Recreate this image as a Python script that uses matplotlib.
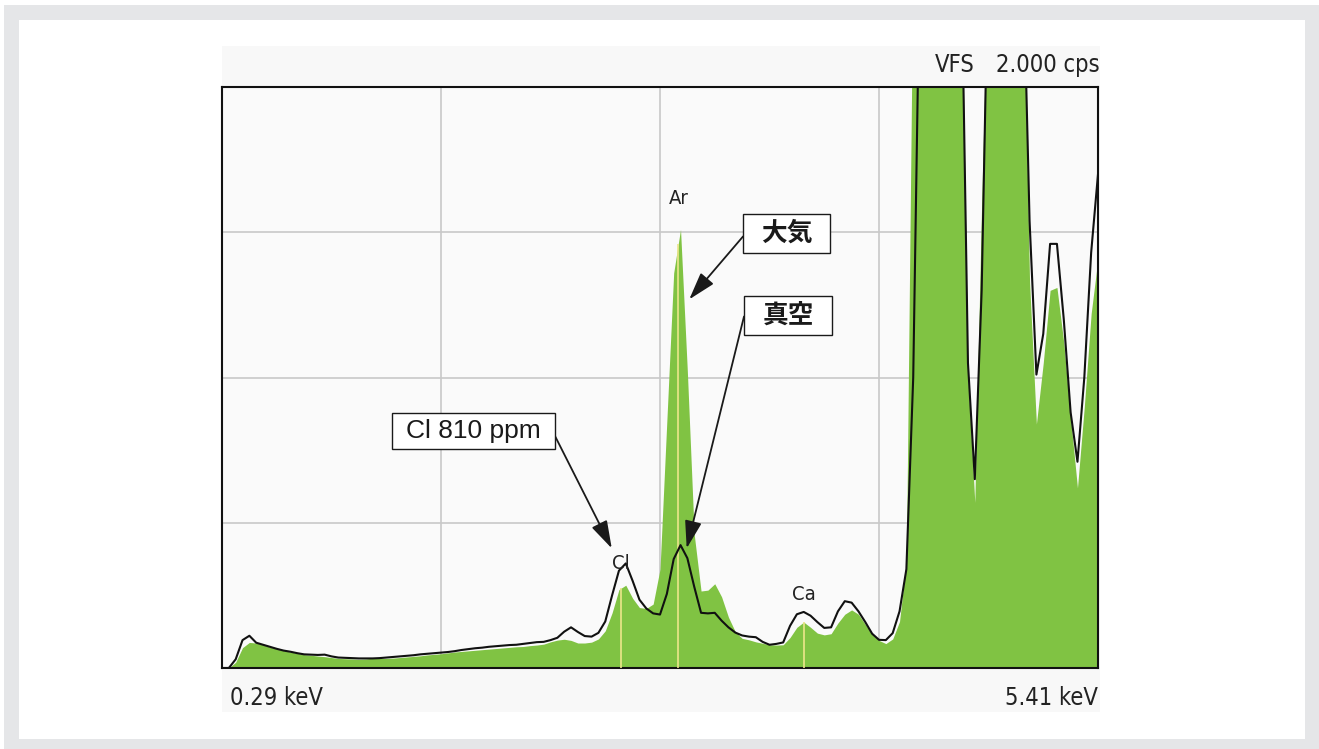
import matplotlib
matplotlib.use('Agg')
import matplotlib.pyplot as plt
from matplotlib.patches import Rectangle
import numpy as np

# channel energies (keV), 0.04 keV per channel
energy = np.linspace(0.29, 5.41, 129)

# vacuum measurement (black line), cps -- values above 2.0 are off scale
vacuum = [
    0.000, 0.000, 0.030, 0.096, 0.111, 0.087, 0.080, 0.073, 0.066, 0.060,
    0.056, 0.051, 0.047, 0.046, 0.045, 0.046, 0.040, 0.036, 0.035, 0.034,
    0.033, 0.033, 0.033, 0.034, 0.036, 0.038, 0.040, 0.042, 0.044, 0.047,
    0.049, 0.051, 0.053, 0.055, 0.058, 0.062, 0.065, 0.068, 0.070, 0.073,
    0.075, 0.077, 0.079, 0.080, 0.083, 0.086, 0.089, 0.090, 0.096, 0.104,
    0.125, 0.140, 0.124, 0.110, 0.108, 0.121, 0.160, 0.250, 0.335, 0.360,
    0.300, 0.235, 0.205, 0.188, 0.184, 0.255, 0.375, 0.423, 0.378, 0.280,
    0.190, 0.188, 0.190, 0.163, 0.140, 0.122, 0.112, 0.108, 0.106, 0.090,
    0.080, 0.083, 0.088, 0.145, 0.185, 0.193, 0.180, 0.158, 0.138, 0.140,
    0.195, 0.230, 0.225, 0.195, 0.158, 0.118, 0.097, 0.096, 0.120, 0.195,
    0.340, 1.000, 2.500, 2.500, 2.500, 2.500, 2.500, 2.500, 2.500, 1.050,
    0.650, 1.300, 2.500, 2.500, 2.500, 2.500, 2.500, 2.500, 1.540, 1.010,
    1.150, 1.460, 1.460, 1.200, 0.880, 0.710, 1.000, 1.430, 1.700,
]

# atmosphere measurement (green fill), cps
atmosphere = [
    0.000, 0.000, 0.020, 0.070, 0.088, 0.086, 0.080, 0.072, 0.066, 0.060,
    0.055, 0.051, 0.046, 0.044, 0.041, 0.039, 0.036, 0.033, 0.032, 0.031,
    0.030, 0.031, 0.034, 0.033, 0.033, 0.034, 0.036, 0.038, 0.040, 0.042,
    0.045, 0.047, 0.049, 0.052, 0.055, 0.057, 0.059, 0.061, 0.063, 0.065,
    0.067, 0.069, 0.071, 0.073, 0.074, 0.077, 0.079, 0.082, 0.090, 0.096,
    0.099, 0.095, 0.086, 0.086, 0.089, 0.100, 0.128, 0.190, 0.270, 0.285,
    0.240, 0.208, 0.205, 0.220, 0.340, 0.850, 1.360, 1.510, 1.020, 0.460,
    0.265, 0.268, 0.290, 0.245, 0.175, 0.125, 0.102, 0.097, 0.090, 0.085,
    0.080, 0.079, 0.080, 0.105, 0.140, 0.158, 0.140, 0.120, 0.114, 0.118,
    0.155, 0.185, 0.200, 0.185, 0.150, 0.118, 0.095, 0.084, 0.100, 0.160,
    0.370, 2.500, 2.500, 2.500, 2.500, 2.500, 2.500, 2.500, 2.500, 1.000,
    0.570, 1.600, 2.500, 2.500, 2.500, 2.500, 2.500, 2.500, 1.330, 0.840,
    1.050, 1.300, 1.310, 1.120, 0.860, 0.620, 0.900, 1.220, 1.410,
]

elements = ['Cl', 'Ar', 'Ca']
element_kev = [2.62, 2.957, 3.69]

W, H = 1319, 749
NARROW = dict(family='DejaVu Sans', fontstretch='condensed')
JP = ['Noto Sans CJK JP', 'DejaVu Sans']


def fx(px):
    return px / W


def fy(py):
    return 1 - py / H


fig = plt.figure(figsize=(W / 100, H / 100), dpi=100)
fig.patch.set_facecolor('white')

# grey frame, white card, pale chart panel
fig.add_artist(Rectangle((fx(4), 0), 1 - fx(4), fy(5), transform=fig.transFigure,
                         color='#e5e6e8', lw=0, zorder=-3))
fig.add_artist(Rectangle((fx(19), fy(739)), fx(1305) - fx(19), fy(20) - fy(739),
                         transform=fig.transFigure, color='white', lw=0, zorder=-2))
fig.add_artist(Rectangle((fx(222), fy(712)), fx(1100) - fx(222), fy(46) - fy(712),
                         transform=fig.transFigure, color='#f8f8f8', lw=0, zorder=-1))

ax = fig.add_axes([fx(222), fy(668), fx(1098) - fx(222), fy(87) - fy(668)])
ax.set_facecolor('#fafafa')
ax.set_xlim(0.29, 5.41)
ax.set_ylim(0, 2.0)
ax.set_xticks(np.linspace(0.29, 5.41, 5)[1:-1])
ax.set_yticks([0.5, 1.0, 1.5])
ax.grid(True, color='#c8c8c8', lw=1.2)
ax.set_axisbelow(True)
ax.tick_params(length=0, labelbottom=False, labelleft=False)
for s in ax.spines.values():
    s.set_color('#111111')
    s.set_linewidth(1.5)

atm = np.array(atmosphere)
vac = np.array(vacuum)
ax.fill_between(energy, 0, atm, color='#80c343', lw=0, zorder=2)

# element marker lines up to the green top
for e in element_kev:
    top = np.interp(e, energy, atm)
    ax.vlines(e, 0, top, color='#ece68a', lw=1.2, zorder=3)

ax.plot(energy, vac, color='#111111', lw=1.5, zorder=4)

# element labels
label_y = [0.327, 1.583, 0.220]
for name, e, y in zip(elements, element_kev, label_y):
    ax.text(e, y, name, ha='center', va='bottom', fontsize=14.5,
            color='#222222', zorder=5, **NARROW)

# header / footer texts
fig.text(fx(955), fy(72), 'VFS', ha='center', va='baseline', fontsize=17,
         color='#222222', **NARROW)
fig.text(fx(1100), fy(72), '2.000 cps', ha='right', va='baseline', fontsize=17,
         color='#222222', **NARROW)
fig.text(fx(230), fy(705), '0.29 keV', ha='left', va='baseline', fontsize=17,
         color='#222222', **NARROW)
fig.text(fx(1098), fy(705), '5.41 keV', ha='right', va='baseline', fontsize=17,
         color='#222222', **NARROW)

# callout boxes: (text, box l, t, r, b in px, family, weight, size, arrow start px, tip in data)
callouts = [
    ('大気', (743, 214, 830, 253), JP, 'bold', 18.5, (743, 236.5), (3.021, 1.269)),
    ('真空', (744, 296, 832, 335), JP, 'bold', 18.5, (744, 316.5), (3.006, 0.412)),
    ('Cl 810 ppm', (392, 413, 555, 449), ['Liberation Sans', 'DejaVu Sans'], 'normal', 19,
     (555, 436), (2.568, 0.412)),
]
for txt, (l, t, r, b), fam, wt, fs, start, tip in callouts:
    fig.add_artist(Rectangle((fx(l), fy(b)), fx(r) - fx(l), fy(t) - fy(b),
                             transform=fig.transFigure, facecolor='white',
                             edgecolor='#1a1a1a', lw=1.0, zorder=5))
    fig.text(fx((l + r) / 2), fy((t + b) / 2), txt, ha='center', va='center',
             fontsize=fs, family=fam, weight=wt, color='#1a1a1a', zorder=6)
    ax.annotate('', xy=tip, xycoords='data',
                xytext=(start[0], H - start[1]), textcoords='figure pixels',
                annotation_clip=False,
                arrowprops=dict(arrowstyle='-|>,head_length=0.85,head_width=0.26',
                                color='#1a1a1a', lw=1.3, shrinkA=0, shrinkB=0,
                                mutation_scale=20),
                zorder=6)

fig.savefig('out.png', dpi=100)
